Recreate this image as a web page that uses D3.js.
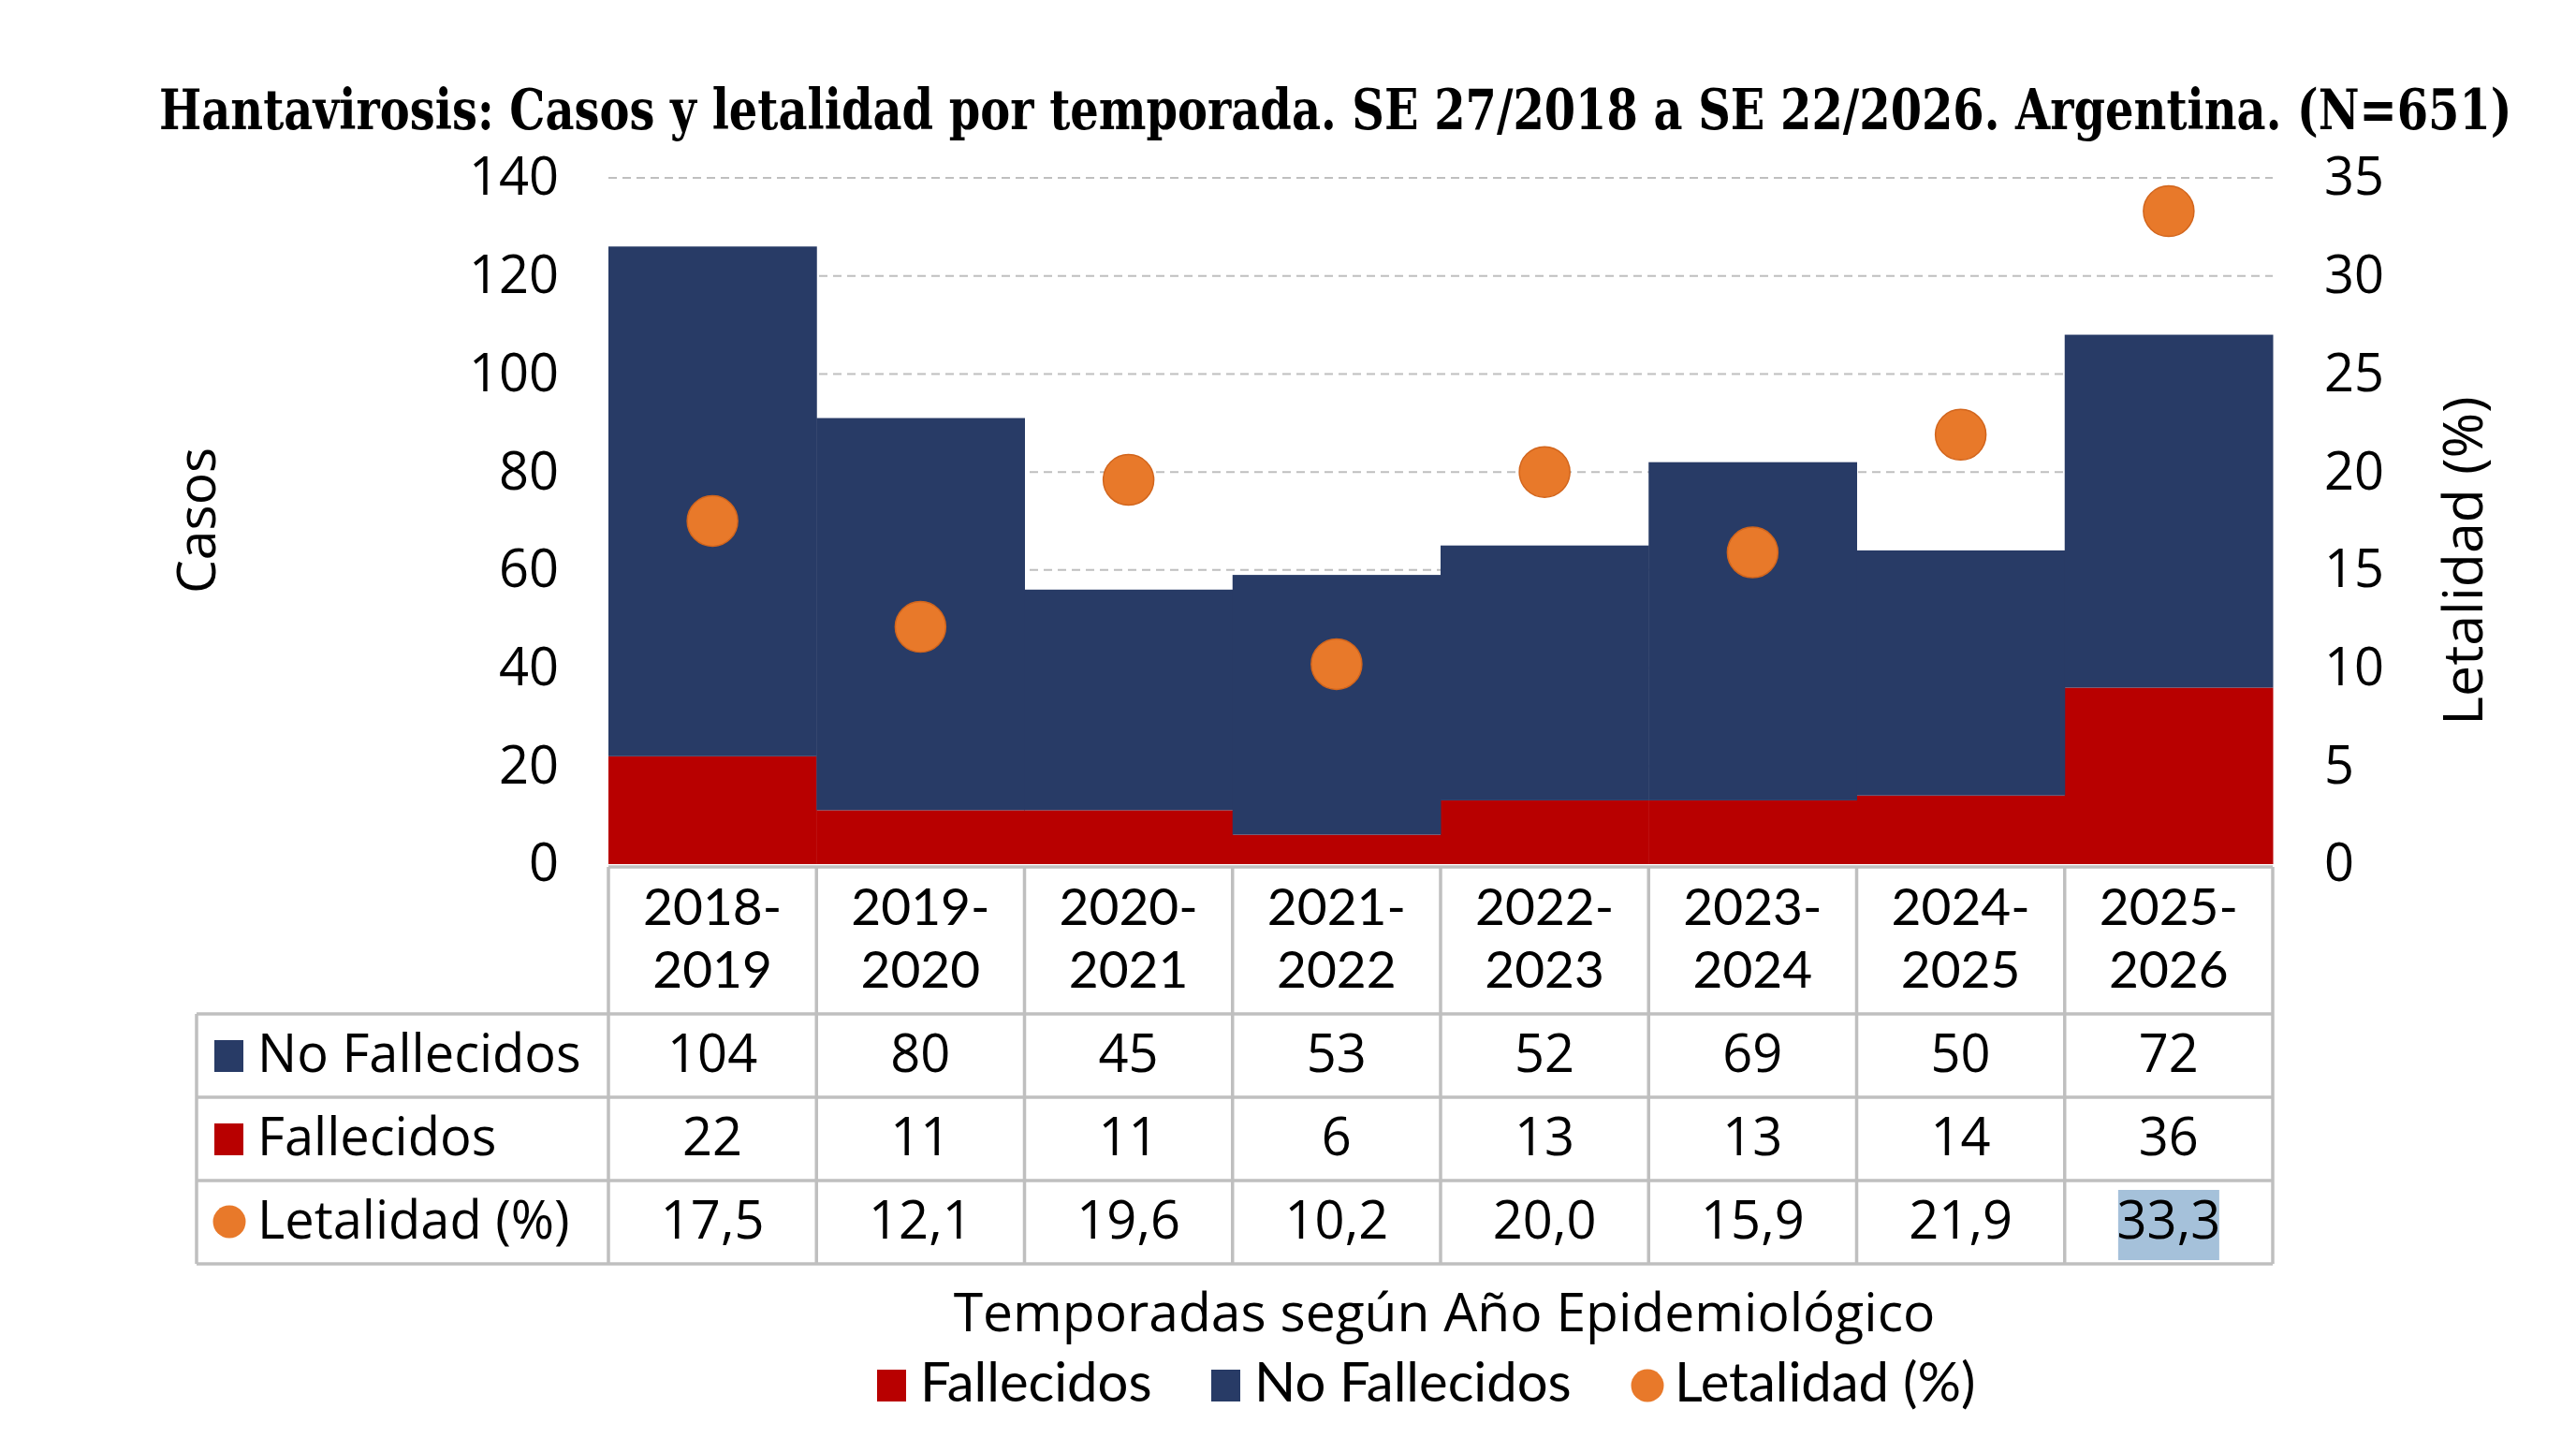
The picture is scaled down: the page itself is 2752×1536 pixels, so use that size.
<!doctype html>
<html lang="es">
<head>
<meta charset="utf-8">
<style>
  html, body { margin: 0; padding: 0; background: #fff; }
  svg text { font-family: "Open Sans", sans-serif; fill: #000; }
</style>
</head>
<body>
<script src="https://d3js.org/d3.v7.min.js"></script>
<div id="chart"></div>
<script>
// data
var temporadas = ["2018-2019", "2019-2020", "2020-2021", "2021-2022", "2022-2023", "2023-2024", "2024-2025", "2025-2026"];
var noFallecidos = [104, 80, 45, 53, 52, 69, 50, 72];
var fallecidos = [22, 11, 11, 6, 13, 13, 14, 36];
var letalidad = [17.5, 12.1, 19.6, 10.2, 20.0, 15.9, 21.9, 33.3];
var casosTicks = [0, 20, 40, 60, 80, 100, 120, 140];
var letalidadTicks = [0, 5, 10, 15, 20, 25, 30, 35];

var W = 2752, H = 1536;
var colNavy = "#283b66", colRed = "#b80000", colOrange = "#e8792a", colGrid = "#bfbfbf";

var svg = d3.select("#chart").append("svg")
    .attr("width", W).attr("height", H)
    .style("display", "block");
svg.append("rect").attr("width", W).attr("height", H).attr("fill", "#fff");

// scales
var x = d3.scaleBand().domain(temporadas).range([650, 2428]).padding(0);
var yL = d3.scaleLinear().domain([0, 140]).range([923, 190]);
var yR = d3.scaleLinear().domain([0, 35]).range([923, 190]);
var bw = x.bandwidth();

// title: shrink the font until it fits, then stretch it back up vertically
var titleW = 2514, titleSize = 60;
var title = svg.append("text")
    .style("font-family", "'DejaVu Serif', serif")
    .style("font-weight", "bold")
    .style("font-size", titleSize + "px")
    .text("Hantavirosis: Casos y letalidad por temporada. SE 27/2018 a SE 22/2026. Argentina. (N=651)");
var natural = title.node().getComputedTextLength();
var fs = Math.min(titleSize, titleSize * titleW / natural);
title.style("font-size", fs + "px")
    .attr("transform", "translate(170,138) scale(1," + (titleSize / fs) + ")");

// gridlines
svg.append("g").selectAll("line")
    .data(casosTicks.filter(function(d) { return d > 0; }))
    .join("line")
    .attr("x1", 650).attr("x2", 2428)
    .attr("y1", function(d) { return yL(d); })
    .attr("y2", function(d) { return yL(d); })
    .attr("stroke", colGrid).attr("stroke-width", 2)
    .attr("stroke-dasharray", "9,6");

// stacked bars
var rows = temporadas.map(function(t, i) {
  return { t: t, fallecidos: fallecidos[i], noFallecidos: noFallecidos[i] };
});
var series = d3.stack().keys(["fallecidos", "noFallecidos"])(rows);
var colors = { fallecidos: colRed, noFallecidos: colNavy };

svg.append("g").selectAll("g")
    .data(series)
    .join("g")
    .attr("fill", function(s) { return colors[s.key]; })
    .selectAll("rect")
    .data(function(s) { return s; })
    .join("rect")
    .attr("x", function(d) { return x(d.data.t); })
    .attr("width", bw + 0.5)
    .attr("y", function(d) { return yL(d[1]); })
    .attr("height", function(d) { return yL(d[0]) - yL(d[1]); });

// letalidad dots
svg.append("g").selectAll("circle")
    .data(letalidad)
    .join("circle")
    .attr("cx", function(d, i) { return x(temporadas[i]) + bw / 2; })
    .attr("cy", function(d) { return yR(d); })
    .attr("r", 27)
    .attr("fill", colOrange)
    .attr("stroke", "#d2651c").attr("stroke-width", 1.5);

// axes
var axL = svg.append("g")
    .attr("transform", "translate(650,0)")
    .call(d3.axisLeft(yL).tickValues(casosTicks).tickSize(0).tickPadding(53));
var axR = svg.append("g")
    .attr("transform", "translate(2428,0)")
    .call(d3.axisRight(yR).tickValues(letalidadTicks).tickSize(0).tickPadding(55));
[axL, axR].forEach(function(a) {
  a.select(".domain").remove();
  a.selectAll("text")
      .style("font-family", "'Open Sans', sans-serif")
      .style("font-size", "56px")
      .attr("fill", "#000");
});

svg.append("text")
    .attr("transform", "translate(230,556) rotate(-90)")
    .attr("text-anchor", "middle")
    .style("font-size", "57px")
    .text("Casos");
svg.append("text")
    .attr("transform", "translate(2652,599) rotate(-90)")
    .attr("text-anchor", "middle")
    .style("font-size", "59px")
    .text("Letalidad (%)");

// data table
var tableTop = 926, headBottom = 1083, rowH = 89, tableLeft = 210;
var rowTops = [headBottom, headBottom + rowH, headBottom + 2 * rowH];
var tableBottom = headBottom + 3 * rowH;
var fmt = function(v) { return d3.format(".1f")(v).replace(".", ","); };

// highlight behind the last letalidad cell
var lastX = x(temporadas[temporadas.length - 1]) + bw / 2;
svg.append("rect")
    .attr("x", lastX - 54).attr("y", rowTops[2] + 10)
    .attr("width", 108).attr("height", 75)
    .attr("fill", "#a5c1da");

var grid = svg.append("g").attr("stroke", colGrid).attr("stroke-width", 3.5);
grid.append("line").attr("x1", 650).attr("x2", 2428).attr("y1", tableTop).attr("y2", tableTop);
[headBottom, rowTops[1], rowTops[2], tableBottom].forEach(function(yy) {
  grid.append("line").attr("x1", tableLeft).attr("x2", 2428).attr("y1", yy).attr("y2", yy);
});
grid.append("line").attr("x1", tableLeft).attr("x2", tableLeft).attr("y1", headBottom).attr("y2", tableBottom);
temporadas.forEach(function(t) {
  grid.append("line").attr("x1", x(t)).attr("x2", x(t)).attr("y1", tableTop).attr("y2", tableBottom);
});
grid.append("line").attr("x1", 2428).attr("x2", 2428).attr("y1", tableTop).attr("y2", tableBottom);

// column headers, two lines each
var headG = svg.append("g");
headG.selectAll("text.l1")
    .data(temporadas)
    .join("text")
    .attr("class", "l1")
    .attr("x", function(t) { return x(t) + bw / 2; })
    .attr("y", 988)
    .attr("text-anchor", "middle")
    .style("font-family", "Lato, sans-serif")
    .style("font-size", "55px")
    .text(function(t) { return t.split("-")[0] + "-"; });
headG.selectAll("text.l2")
    .data(temporadas)
    .join("text")
    .attr("class", "l2")
    .attr("x", function(t) { return x(t) + bw / 2; })
    .attr("y", 1055)
    .attr("text-anchor", "middle")
    .style("font-family", "Lato, sans-serif")
    .style("font-size", "55px")
    .text(function(t) { return t.split("-")[1]; });

// table rows
var tableRows = [
  { label: "No Fallecidos", marker: "rect", color: colNavy, values: noFallecidos.map(String) },
  { label: "Fallecidos", marker: "rect", color: colRed, values: fallecidos.map(String) },
  { label: "Letalidad (%)", marker: "circle", color: colOrange, values: letalidad.map(fmt) }
];
tableRows.forEach(function(r, i) {
  var top = rowTops[i];
  var base = top + 62;
  if (r.marker === "rect") {
    svg.append("rect").attr("x", 229).attr("y", top + 28).attr("width", 31).attr("height", 34).attr("fill", r.color);
  } else {
    svg.append("circle").attr("cx", 245).attr("cy", top + 44).attr("r", 17.5).attr("fill", r.color);
  }
  svg.append("text").attr("x", 275).attr("y", base).style("font-size", "56px").text(r.label);
  svg.append("g").selectAll("text")
      .data(r.values)
      .join("text")
      .attr("x", function(v, j) { return x(temporadas[j]) + bw / 2; })
      .attr("y", base)
      .attr("text-anchor", "middle")
      .style("font-size", "56px")
      .text(function(v) { return v; });
});

// x axis title
svg.append("text")
    .attr("x", 1543).attr("y", 1422)
    .attr("text-anchor", "middle")
    .style("font-size", "57px")
    .text("Temporadas según Año Epidemiológico");

// legend
var legend = [
  { label: "Fallecidos", marker: "rect", color: colRed, x: 937 },
  { label: "No Fallecidos", marker: "rect", color: colNavy, x: 1294 },
  { label: "Letalidad (%)", marker: "circle", color: colOrange, x: 1743 }
];
legend.forEach(function(l) {
  if (l.marker === "rect") {
    svg.append("rect").attr("x", l.x).attr("y", 1463).attr("width", 31).attr("height", 34).attr("fill", l.color);
  } else {
    svg.append("circle").attr("cx", l.x + 17).attr("cy", 1480).attr("r", 17.5).attr("fill", l.color);
  }
  svg.append("text").attr("x", l.x + 46).attr("y", 1497)
      .style("font-family", "Lato, sans-serif")
      .style("font-size", "58px")
      .text(l.label);
});
</script>
</body>
</html>
